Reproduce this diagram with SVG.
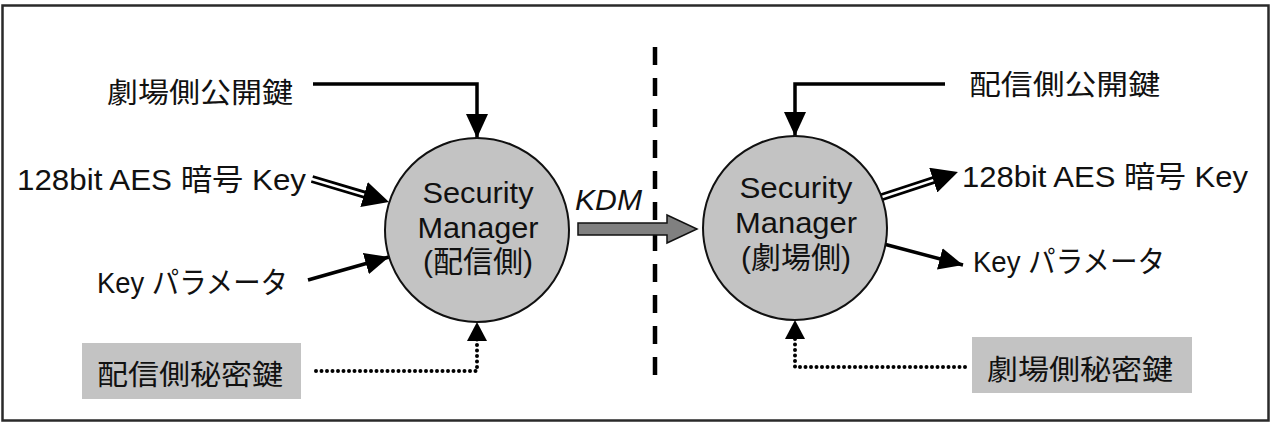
<svg xmlns="http://www.w3.org/2000/svg" width="1285" height="424" viewBox="0 0 1285 424">
<style>
  .lbl { font-family: "Liberation Sans", "Noto Sans CJK JP", sans-serif; font-size: 30px; fill: #111; }
  .cjk { font-family: "Noto Sans CJK JP", sans-serif; font-size: 28px; fill: #111; }
  .node { fill: #c3c3c3; stroke: #111; stroke-width: 2; }
  .ntxt { font-family: "Liberation Sans", "Noto Sans CJK JP", sans-serif; font-size: 30px; fill: #111; text-anchor: middle; }
  .box { fill: #c3c3c3; }
  .solid { fill: none; stroke: #000; stroke-width: 3.5; }
  .dot { fill: none; stroke: #000; stroke-width: 4; stroke-dasharray: 0 5.5; stroke-linecap: round; }
  .dblo { fill: none; stroke: #000; stroke-width: 8; }
  .dbli { fill: none; stroke: #fff; stroke-width: 2.5; }
</style>
<defs>
  <marker id="head" viewBox="0 0 24 22" refX="24" refY="11" markerWidth="24" markerHeight="22" markerUnits="userSpaceOnUse" orient="auto">
    <path d="M0,0 L24,11 L0,22 z" fill="#000"/>
  </marker>
  <marker id="dblhead" viewBox="0 0 26 26" refX="11" refY="13" markerWidth="26" markerHeight="26" markerUnits="userSpaceOnUse" orient="auto">
    <path d="M0,0 L26,13 L0,26 z" fill="#000"/>
  </marker>
</defs>
<rect x="0" y="0" width="1285" height="424" fill="#fff"/>
<rect x="2.5" y="5.5" width="1266" height="415" fill="#fff" stroke="#2a2a2a" stroke-width="2.5"/>

<g id="divider">
  <line x1="655" y1="47" x2="655" y2="380" stroke="#000" stroke-width="4.5" stroke-dasharray="18 13"/>
</g>

<g id="connectors">
  <!-- left side inputs -->
  <path class="solid" d="M313,84 H477 V138" marker-end="url(#head)"/>
  <path class="dblo" d="M312,179 L374.6,197.7" marker-end="url(#dblhead)"/>
  <path class="dbli" d="M311,178.7 L364.1,194.6"/>
  <path class="solid" d="M308,280 L389,257" marker-end="url(#head)"/>
  <path class="dot" d="M316,371 H477 V326"/>
  <path d="M477,322 L467,341 L487,341 z" fill="#000"/>
  <!-- KDM -->
  <path d="M578,223 H667 V215 L697,229 L667,243 V235 H578 z" fill="#808080" stroke="#111" stroke-width="1.5"/>
  <!-- right side -->
  <path class="solid" d="M945,84 H795 V136" marker-end="url(#head)"/>
  <path class="dblo" d="M876,199 L943.7,176.7" marker-end="url(#dblhead)"/>
  <path class="dbli" d="M876,199 L933.3,180.1"/>
  <path class="solid" d="M880,243 L963,265" marker-end="url(#head)"/>
  <path class="dot" d="M965,367 H795 V324"/>
  <path d="M795,320 L785,339 L805,339 z" fill="#000"/>
</g>

<g id="node-sender">
  <circle class="node" cx="477" cy="230" r="92"/>
  <text class="ntxt" x="478" y="203" textLength="111" lengthAdjust="spacingAndGlyphs">Security</text>
  <text class="ntxt" x="478" y="238" textLength="121" lengthAdjust="spacingAndGlyphs">Manager</text>
  <text class="ntxt" x="478" y="272" textLength="110" lengthAdjust="spacingAndGlyphs">(配信側)</text>
</g>

<g id="node-theater">
  <circle class="node" cx="795" cy="228" r="92"/>
  <text class="ntxt" x="796" y="198" textLength="113" lengthAdjust="spacingAndGlyphs">Security</text>
  <text class="ntxt" x="796" y="233" textLength="122" lengthAdjust="spacingAndGlyphs">Manager</text>
  <text class="ntxt" x="796" y="268" textLength="110" lengthAdjust="spacingAndGlyphs">(劇場側)</text>
</g>

<g id="label-kdm">
  <text class="lbl" x="575" y="210" font-style="italic" textLength="67" lengthAdjust="spacingAndGlyphs">KDM</text>
</g>

<g id="label-theater-public-key">
  <text class="cjk" x="107" y="103" textLength="186" lengthAdjust="spacingAndGlyphs">劇場側公開鍵</text>
</g>
<g id="label-aes-in">
  <text class="lbl" x="17" y="190" textLength="289" lengthAdjust="spacingAndGlyphs">128bit AES 暗号 Key</text>
</g>
<g id="label-param-in">
  <text class="lbl" x="97" y="293" textLength="191" lengthAdjust="spacingAndGlyphs">Key パラメータ</text>
</g>
<g id="node-sender-private-key">
  <rect class="box" x="82" y="343" width="219" height="56"/>
  <text class="cjk" x="97" y="385" textLength="186" lengthAdjust="spacingAndGlyphs">配信側秘密鍵</text>
</g>

<g id="label-sender-public-key">
  <text class="cjk" x="969" y="95" textLength="191" lengthAdjust="spacingAndGlyphs">配信側公開鍵</text>
</g>
<g id="label-aes-out">
  <text class="lbl" x="962" y="187" textLength="286" lengthAdjust="spacingAndGlyphs">128bit AES 暗号 Key</text>
</g>
<g id="label-param-out">
  <text class="lbl" x="973" y="272" textLength="192" lengthAdjust="spacingAndGlyphs">Key パラメータ</text>
</g>
<g id="node-theater-private-key">
  <rect class="box" x="972" y="337" width="220" height="56"/>
  <text class="cjk" x="987" y="380" textLength="186" lengthAdjust="spacingAndGlyphs">劇場側秘密鍵</text>
</g>
</svg>
